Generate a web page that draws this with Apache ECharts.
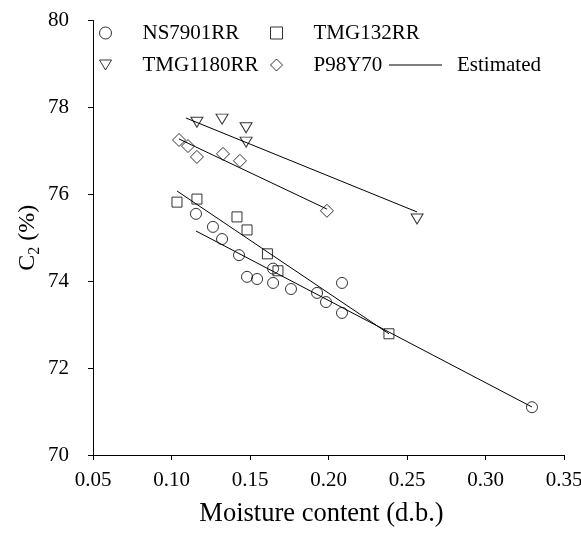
<!DOCTYPE html>
<html>
<head>
<meta charset="utf-8">
<script src="https://cdn.jsdelivr.net/npm/echarts@6/dist/echarts.min.js"></script>
<style>html,body{margin:0;padding:0;background:#fff;}#c{width:581px;height:535px;}</style>
</head>
<body>
<div id="c"></div>
<script>
// ---- data ----
var xTicks = [0.05, 0.10, 0.15, 0.20, 0.25, 0.30, 0.35];
var yTicks = [70, 72, 74, 76, 78, 80];

var ns7901X = [0.1156, 0.1264, 0.1322, 0.1430, 0.1647, 0.1481, 0.1545, 0.1647, 0.1761, 0.1927, 0.2086, 0.1984, 0.2086, 0.3296];
var ns7901Y = [75.55, 75.25, 74.97, 74.60, 74.29, 74.10, 74.05, 73.96, 73.82, 73.73, 73.96, 73.52, 73.27, 71.10];

var tmg132X = [0.1035, 0.1162, 0.1417, 0.1481, 0.1611, 0.1678, 0.2385];
var tmg132Y = [75.82, 75.89, 75.48, 75.18, 74.63, 74.24, 72.79];

var tmg1180X = [0.1162, 0.1322, 0.1475, 0.1475, 0.2564];
var tmg1180Y = [77.66, 77.73, 77.53, 77.20, 75.43];

var p98X = [0.1048, 0.1105, 0.1162, 0.1328, 0.1436, 0.1990];
var p98Y = [77.25, 77.11, 76.86, 76.93, 76.77, 75.62];

// estimated lines: [x start, x end], [y start, y end]
var estNsX = [0.1156, 0.3296];   var estNsY = [75.155, 71.105];
var estT132X = [0.1035, 0.2385]; var estT132Y = [76.076, 72.79];
var estT1180X = [0.1092, 0.2564]; var estT1180Y = [77.756, 75.593];
var estP98X = [0.1048, 0.1990];  var estP98Y = [77.273, 75.66];

function pairs(xs, ys) { return xs.map(function (x, i) { return [x, ys[i]]; }); }

var FONT = 'Liberation Serif';
var chart = echarts.init(document.getElementById('c'), null, {renderer: 'canvas'});

function scatter(name, xs, ys, symbol, size, rot) {
  return {
    type: 'scatter', name: name, data: pairs(xs, ys),
    symbol: symbol, symbolSize: size, symbolRotate: rot || 0,
    itemStyle: {color: 'rgba(0,0,0,0)', borderColor: '#000', borderWidth: 1},
    emphasis: {disabled: true}, z: 3
  };
}
function est(xs, ys) {
  return {
    type: 'line', name: 'Estimated', data: pairs(xs, ys), symbol: 'none',
    lineStyle: {color: '#000', width: 1}, itemStyle: {color: '#000'},
    emphasis: {disabled: true}, z: 2
  };
}

var legendText = {fontFamily: FONT, fontSize: 21, color: '#000', lineHeight: 22, padding: [0, 0, 0, 26]};
var legendItem = {color: 'rgba(0,0,0,0)', borderColor: '#000', borderWidth: 1};

chart.setOption({
  animation: false,
  backgroundColor: '#fff',
  grid: {left: 93, right: 17, top: 20.5, bottom: 80, outerBoundsMode: 'none', containLabel: false},
  legend: [
    {orient: 'vertical', left: 99, top: 22, padding: 0, itemGap: 10, itemWidth: 12, itemHeight: 12,
     itemStyle: legendItem,
     data: [{name: 'NS7901RR'}, {name: 'TMG1180RR', icon: 'path://M0,0L12,0L6,10Z'}],
     textStyle: legendText, selectedMode: false},
    {orient: 'vertical', left: 270, top: 22, padding: 0, itemGap: 10, itemWidth: 12, itemHeight: 12,
     itemStyle: legendItem,
     data: ['TMG132RR', 'P98Y70'], textStyle: legendText, selectedMode: false},
    {orient: 'vertical', left: 389, top: 54, padding: 0, itemWidth: 53, itemHeight: 22,
     data: [{name: 'Estimated', icon: 'path://M0,10.5L53,10.5L53,11.5L0,11.5Z'}],
     itemStyle: {color: '#000', borderWidth: 0},
     textStyle: Object.assign({}, legendText, {padding: [0, 0, 0, 10]}), selectedMode: false}
  ],
  xAxis: {
    type: 'value', min: xTicks[0], max: xTicks[xTicks.length - 1], interval: 0.05,
    name: 'Moisture content (d.b.)', nameLocation: 'middle', nameGap: 46, nameMoveOverlap: false,
    nameTextStyle: {fontFamily: FONT, fontSize: 26.5, color: '#000', padding: [0, 14, 0, 0]},
    axisLine: {lineStyle: {color: '#000', width: 1}},
    axisTick: {show: true, length: 5, lineStyle: {color: '#000'}},
    axisLabel: {fontFamily: FONT, fontSize: 21, color: '#000', margin: 15,
      formatter: function (v) { return v.toFixed(2); }},
    splitLine: {show: false}
  },
  yAxis: {
    type: 'value', min: yTicks[0], max: yTicks[yTicks.length - 1], interval: 2,
    name: '{a|C}{s|2}{a| (%)}', nameLocation: 'middle', nameGap: 50, nameRotate: 90, nameMoveOverlap: false,
    nameTextStyle: {fontFamily: FONT, fontSize: 24, color: '#000',
      rich: {a: {fontFamily: FONT, fontSize: 24, color: '#000', lineHeight: 30},
             s: {fontFamily: FONT, fontSize: 16, color: '#000', lineHeight: 16, verticalAlign: 'bottom'}}},
    axisLine: {show: true, lineStyle: {color: '#000', width: 1}},
    axisTick: {show: true, length: 5, lineStyle: {color: '#000'}},
    axisLabel: {fontFamily: FONT, fontSize: 21, color: '#000', margin: 24},
    splitLine: {show: false}
  },
  series: [
    scatter('NS7901RR', ns7901X, ns7901Y, 'circle', 11),
    scatter('TMG132RR', tmg132X, tmg132Y, 'rect', 10),
    scatter('TMG1180RR', tmg1180X, tmg1180Y, 'triangle', [12, 10], 180),
    scatter('P98Y70', p98X, p98Y, 'diamond', [13, 13]),
    est(estNsX, estNsY),
    est(estT132X, estT132Y),
    est(estT1180X, estT1180Y),
    est(estP98X, estP98Y)
  ]
});
</script>
</body>
</html>
